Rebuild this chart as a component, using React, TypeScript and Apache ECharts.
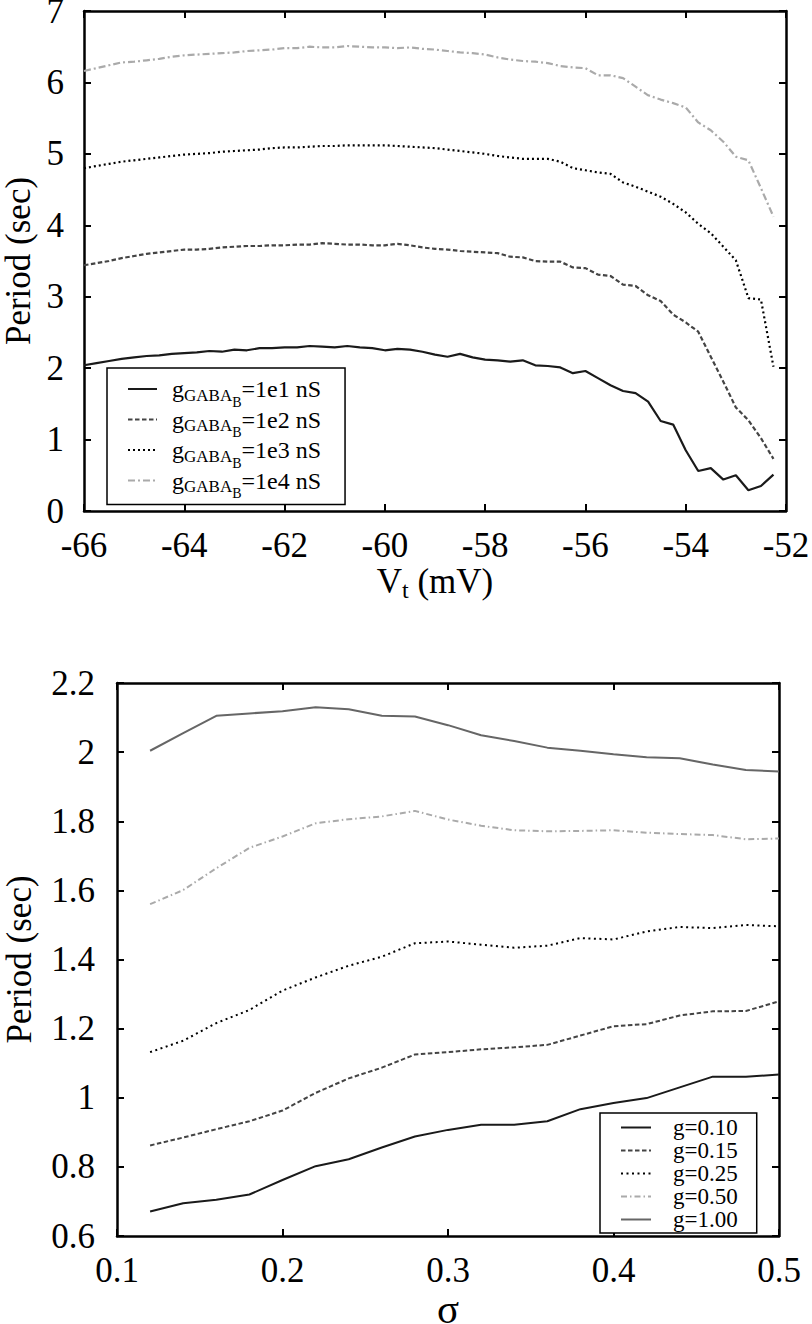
import React, { useEffect, useRef } from "react";
import * as echarts from "echarts";

const FONT = "Liberation Serif";

// Top panel: V_t (mV) vs period (sec)
const vt = [
  -66, -65.75, -65.5, -65.25, -65, -64.75, -64.5, -64.25, -64, -63.75,
  -63.5, -63.25, -63, -62.75, -62.5, -62.25, -62, -61.75, -61.5, -61.25,
  -61, -60.75, -60.5, -60.25, -60, -59.75, -59.5, -59.25, -59, -58.75,
  -58.5, -58.25, -58, -57.75, -57.5, -57.25, -57, -56.75, -56.5, -56.25,
  -56, -55.75, -55.5, -55.25, -55, -54.75, -54.5, -54.25, -54, -53.75,
  -53.5, -53.25, -53, -52.75, -52.5, -52.25,
];
const g1e1 = [
  2.04, 2.07, 2.1, 2.13, 2.15, 2.17, 2.18, 2.2, 2.21, 2.22,
  2.24, 2.23, 2.26, 2.25, 2.28, 2.28, 2.29, 2.29, 2.31, 2.3,
  2.29, 2.31, 2.29, 2.28, 2.25, 2.27, 2.26, 2.23, 2.19, 2.16,
  2.2, 2.15, 2.12, 2.11, 2.09, 2.11, 2.04, 2.03, 2.01, 1.93,
  1.96, 1.86, 1.76, 1.68, 1.65, 1.53, 1.26, 1.21, 0.85, 0.56,
  0.6, 0.44, 0.5, 0.29, 0.35, 0.51,
];
const g1e2 = [
  3.44, 3.47, 3.5, 3.54, 3.57, 3.6, 3.62, 3.64, 3.66, 3.66,
  3.67, 3.69, 3.7, 3.71, 3.71, 3.72, 3.72, 3.73, 3.73, 3.75,
  3.74, 3.73, 3.73, 3.72, 3.72, 3.74, 3.72, 3.69, 3.67, 3.66,
  3.64, 3.63, 3.62, 3.61, 3.56, 3.55, 3.5, 3.49, 3.49, 3.41,
  3.4, 3.31, 3.29, 3.17, 3.15, 3.02, 2.94, 2.75, 2.64, 2.51,
  2.16, 1.81, 1.45, 1.27, 1.02, 0.73,
];
const g1e3 = [
  4.8, 4.83, 4.86, 4.89, 4.91, 4.93, 4.95, 4.97, 4.99, 5.0,
  5.01, 5.03, 5.04, 5.05, 5.06, 5.08, 5.09, 5.09, 5.1, 5.11,
  5.11, 5.12, 5.12, 5.12, 5.12, 5.11, 5.1, 5.09, 5.08, 5.06,
  5.04, 5.02, 5.0, 4.97, 4.95, 4.93, 4.93, 4.93, 4.89, 4.8,
  4.77, 4.74, 4.72, 4.6, 4.54, 4.47, 4.4, 4.3, 4.18, 4.02,
  3.89, 3.7, 3.51, 2.98, 2.96, 2.02,
];
const g1e4 = [
  6.16, 6.2, 6.24, 6.28, 6.29, 6.31, 6.33, 6.36, 6.38, 6.39,
  6.4, 6.41, 6.42, 6.44, 6.45, 6.46, 6.48, 6.48, 6.5, 6.49,
  6.49, 6.51, 6.5, 6.49, 6.49, 6.48, 6.49, 6.47, 6.46, 6.44,
  6.42, 6.41, 6.39, 6.35, 6.32, 6.3, 6.29, 6.27, 6.23, 6.21,
  6.2, 6.1, 6.1, 6.06, 5.94, 5.82, 5.76, 5.71, 5.65, 5.44,
  5.33, 5.17, 4.96, 4.91, 4.52, 4.12,
];
const topNames = ["1e1", "1e2", "1e3", "1e4"];

// Bottom panel: sigma vs period (sec)
const sigma = [
  0.12, 0.14, 0.16, 0.18, 0.2, 0.22, 0.24, 0.26, 0.28, 0.3,
  0.32, 0.34, 0.36, 0.38, 0.4, 0.42, 0.44, 0.46, 0.48, 0.5,
];
const g010 = [
  0.671, 0.695, 0.705, 0.72, 0.762, 0.802, 0.822, 0.856, 0.888, 0.907,
  0.922, 0.922, 0.932, 0.967, 0.985, 0.999, 1.03, 1.061, 1.061, 1.067,
];
const g015 = [
  0.862, 0.885, 0.909, 0.932, 0.963, 1.014, 1.056, 1.087, 1.125, 1.132,
  1.14, 1.146, 1.153, 1.18, 1.207, 1.213, 1.238, 1.25, 1.251, 1.279,
];
const g025 = [
  1.132, 1.165, 1.216, 1.254, 1.31, 1.348, 1.382, 1.408, 1.447, 1.452,
  1.443, 1.434, 1.44, 1.462, 1.458, 1.481, 1.494, 1.491, 1.5, 1.496,
];
const g050 = [
  1.56, 1.601, 1.664, 1.723, 1.756, 1.794, 1.806, 1.814, 1.83, 1.805,
  1.787, 1.774, 1.771, 1.772, 1.774, 1.767, 1.763, 1.76, 1.748, 1.75,
];
const g100 = [
  2.004, 2.055, 2.105, 2.112, 2.118, 2.13, 2.124, 2.105, 2.103, 2.078,
  2.049, 2.032, 2.013, 2.004, 1.994, 1.985, 1.982, 1.964, 1.948, 1.944,
];
const bottomNames = ["g=0.10", "g=0.15", "g=0.25", "g=0.50", "g=1.00"];

const zip = (xs: number[], ys: number[]) => xs.map((x, i) => [x, ys[i]]);

function frameAxes(
  kind: "x" | "y",
  gridIndex: number,
  min: number,
  max: number,
  interval: number,
  labelMargin: number,
  name: string,
  nameGap: number,
  nameStyle: any
) {
  const common = {
    type: "value",
    gridIndex,
    min,
    max,
    interval,
    splitLine: { show: false },
    axisLine: { show: true, onZero: false, lineStyle: { color: "#000", width: 2.5 } },
    axisTick: { show: true, inside: true, length: 7, lineStyle: { color: "#000", width: 2 } },
  };
  const main = {
    ...common,
    position: kind === "x" ? "bottom" : "left",
    axisLabel: {
      show: true,
      margin: labelMargin,
      fontFamily: FONT,
      fontSize: 35,
      color: "#000",
    },
    name,
    nameLocation: "middle",
    nameGap,
    nameRotate: kind === "y" ? 90 : 0,
    nameTextStyle: nameStyle,
  };
  const mirror = {
    ...common,
    position: kind === "x" ? "top" : "right",
    axisLabel: { show: false },
  };
  return [main, mirror];
}

export default function App() {
  const ref = useRef<HTMLDivElement>(null);

  useEffect(() => {
    if (!ref.current) return;
    const chart = echarts.init(ref.current, undefined, { renderer: "svg" });

    const topColors = ["#1a1a1a", "#444444", "#000000", "#aaaaaa"];
    const topTypes: any[] = ["solid", [4.5, 2.5], [2, 3], [7, 3, 2, 3]];
    const topData = [g1e1, g1e2, g1e3, g1e4];

    const botColors = ["#1a1a1a", "#444444", "#000000", "#aaaaaa", "#666666"];
    const botTypes: any[] = ["solid", [4.5, 2.5], [2, 3.5], [6, 3, 1.5, 3], "solid"];
    const botData = [g010, g015, g025, g050, g100];

    const [x0, x1] = frameAxes("x", 0, -66, -52, 2, 17, "{v|V}{s|t}{v| (mV)}", 40, {
      fontFamily: FONT,
      color: "#000",
      rich: {
        v: { fontFamily: FONT, fontSize: 35, color: "#000", lineHeight: 40 },
        s: { fontFamily: FONT, fontSize: 24, color: "#000", lineHeight: 40, padding: [9, 0, -9, 0] },
      },
    });
    const [y0, y1] = frameAxes("y", 0, 0, 7, 1, 20, "Period (sec)", 47, {
      fontFamily: FONT,
      fontSize: 35,
      color: "#000",
    });
    const [x2, x3] = frameAxes("x", 1, 0.1, 0.5, 0.1, 17, "σ", 47, {
      fontFamily: FONT,
      fontSize: 41,
      color: "#000",
    });
    const [y2, y3] = frameAxes("y", 1, 0.6, 2.2, 0.2, 22, "Period (sec)", 80, {
      fontFamily: FONT,
      fontSize: 35,
      color: "#000",
    });

    const series: any[] = [];
    topData.forEach((d, i) => {
      series.push({
        name: topNames[i],
        type: "line",
        xAxisIndex: 0,
        yAxisIndex: 0,
        data: zip(vt, d),
        symbol: "none",
        lineStyle: { color: topColors[i], width: 2.2, type: topTypes[i] },
        itemStyle: { color: topColors[i] },
        z: 3,
      });
    });
    botData.forEach((d, i) => {
      series.push({
        name: bottomNames[i],
        type: "line",
        xAxisIndex: 2,
        yAxisIndex: 2,
        data: zip(sigma, d),
        symbol: "none",
        lineStyle: { color: botColors[i], width: 2, type: botTypes[i] },
        itemStyle: { color: botColors[i] },
        z: 3,
      });
    });

    chart.setOption({
      animation: false,
      backgroundColor: "#ffffff",
      textStyle: { fontFamily: FONT, color: "#000" },
      grid: [
        { left: 84, top: 11, width: 702, height: 500, containLabel: false, outerBoundsMode: "none" },
        { left: 117, top: 683, width: 662, height: 553, containLabel: false, outerBoundsMode: "none" },
      ],
      xAxis: [x0, x1, x2, x3],
      yAxis: [y0, y1, y2, y3],
      legend: [
        {
          data: topNames,
          orient: "vertical",
          left: 107,
          top: 368,
          padding: [9, 24, 4, 20],
          itemWidth: 29,
          itemHeight: 14,
          itemGap: -1.5,
          itemStyle: { opacity: 0 },
          backgroundColor: "#ffffff",
          borderColor: "#000",
          borderWidth: 1.5,
          borderRadius: 0,
          selectedMode: false,
          formatter: (name: string) => `{g|g}{s|GABA}{ss|B}{t|=${name} nS}`,
          textStyle: {
            fontFamily: FONT,
            fontSize: 24,
            color: "#000",
            rich: {
              g: { fontFamily: FONT, fontSize: 24, color: "#000", lineHeight: 26, padding: [0, 0, 0, 10] },
              s: { fontFamily: FONT, fontSize: 17, color: "#000", lineHeight: 26, padding: [6, 0, -6, 0] },
              ss: { fontFamily: FONT, fontSize: 14, color: "#000", lineHeight: 26, padding: [13, 0, -13, 0] },
              t: { fontFamily: FONT, fontSize: 24, color: "#000", lineHeight: 26 },
            },
          },
        },
        {
          data: bottomNames,
          orient: "vertical",
          left: 600,
          top: 1113,
          padding: [3, 19, 2, 20],
          itemWidth: 30,
          itemHeight: 12,
          itemGap: 0,
          itemStyle: { opacity: 0 },
          backgroundColor: "#ffffff",
          borderColor: "#000",
          borderWidth: 1.5,
          borderRadius: 0,
          selectedMode: false,
          formatter: (name: string) => `{t|${name}}`,
          textStyle: {
            fontFamily: FONT,
            fontSize: 23,
            color: "#000",
            rich: {
              t: { fontFamily: FONT, fontSize: 23, color: "#000", lineHeight: 21.8, padding: [0, 0, 0, 17] },
            },
          },
        },
      ],
      series,
    });

    return () => chart.dispose();
  }, []);

  return (
    <div
      ref={ref}
      style={{ position: "absolute", left: 0, top: 0, width: 812, height: 1324, background: "#fff" }}
    />
  );
}
